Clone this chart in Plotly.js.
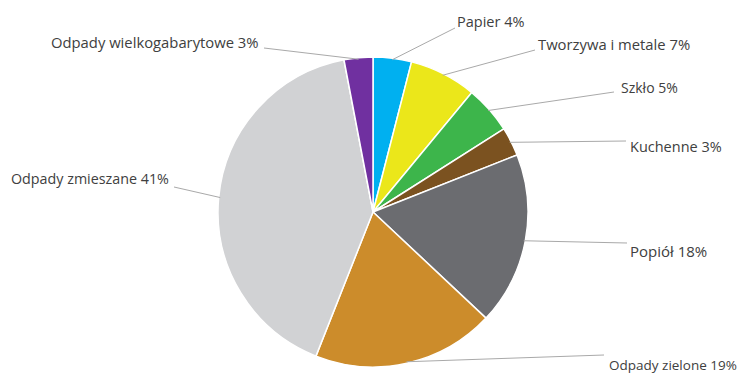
<!DOCTYPE html>
<html><head><meta charset="utf-8">
<script src="https://cdn.plot.ly/plotly-3.0.1.min.js"></script>
<style>html,body{margin:0;padding:0;background:#fff}#c{width:747px;height:374px}</style>
</head><body><div id="c"></div>
<script>
const categories = ["Papier","Tworzywa i metale","Szkło","Kuchenne","Popiół","Odpady zielone","Odpady zmieszane","Odpady wielkogabarytowe"];
const values = [4,7,5,3,18,19,41,3];
const colors = ["#00b0f0","#ebe71a","#3db54b","#7b5220","#6b6c70","#cc8c2b","#d1d2d4","#7030a0"];
const labelTexts = categories.map((c,i)=>c+" "+values[i]+"%");

const W=747,H=374;
const cx=373, cy=212, R=155;
// label anchor points (text placement) in pixels
const labelPos = [[455,21,"left"],[536,44,"left"],[619,87,"left"],[628,146,"left"],[628,251,"left"],[607,365,"left"],[171,178,"right"],[261,42,"right"]];
const labelSize = [14.5,14.8,14,14.5,15,13.5,14.3,14.8];
const lineEnd = [[455,28],[535,50],[614,92],[626,141],[627,243],[604,355],[174,187],[264,48]];

const px=x=>x/W, py=y=>1-y/H;
const total=values.reduce((a,b)=>a+b,0);
let cum=0;
const shapes=[], annotations=[];
values.forEach((v,i)=>{
  const mid=(cum+v/2)/total*2*Math.PI; cum+=v;
  const tx=cx+R*0.99*Math.sin(mid), ty=cy-R*0.99*Math.cos(mid);
  const [ex,ey]=lineEnd[i];
  shapes.push({type:"line",xref:"paper",yref:"paper",x0:px(tx),y0:py(ty),x1:px(ex),y1:py(ey),line:{color:"#a9a9a9",width:1}});
  const [lx,ly,al]=labelPos[i];
  annotations.push({xref:"paper",yref:"paper",x:px(lx),y:py(ly),text:labelTexts[i],showarrow:false,xanchor:al,yanchor:"middle",font:{family:"Open Sans, Liberation Sans, sans-serif",size:labelSize[i],color:"#404040"}});
});

const trace={type:"pie",labels:categories,values:values,sort:false,direction:"clockwise",rotation:0,
  marker:{colors:colors,line:{color:"#ffffff",width:1.5}},textinfo:"none",hoverinfo:"label+percent",
  domain:{x:[px(cx-R),px(cx+R)],y:[py(cy+R),py(cy-R)]},showlegend:false};
Plotly.newPlot("c",[trace],{width:W,height:H,margin:{l:0,r:0,t:0,b:0},paper_bgcolor:"#fff",showlegend:false,shapes:shapes,annotations:annotations},{displayModeBar:false,staticPlot:true});
</script></body></html>
